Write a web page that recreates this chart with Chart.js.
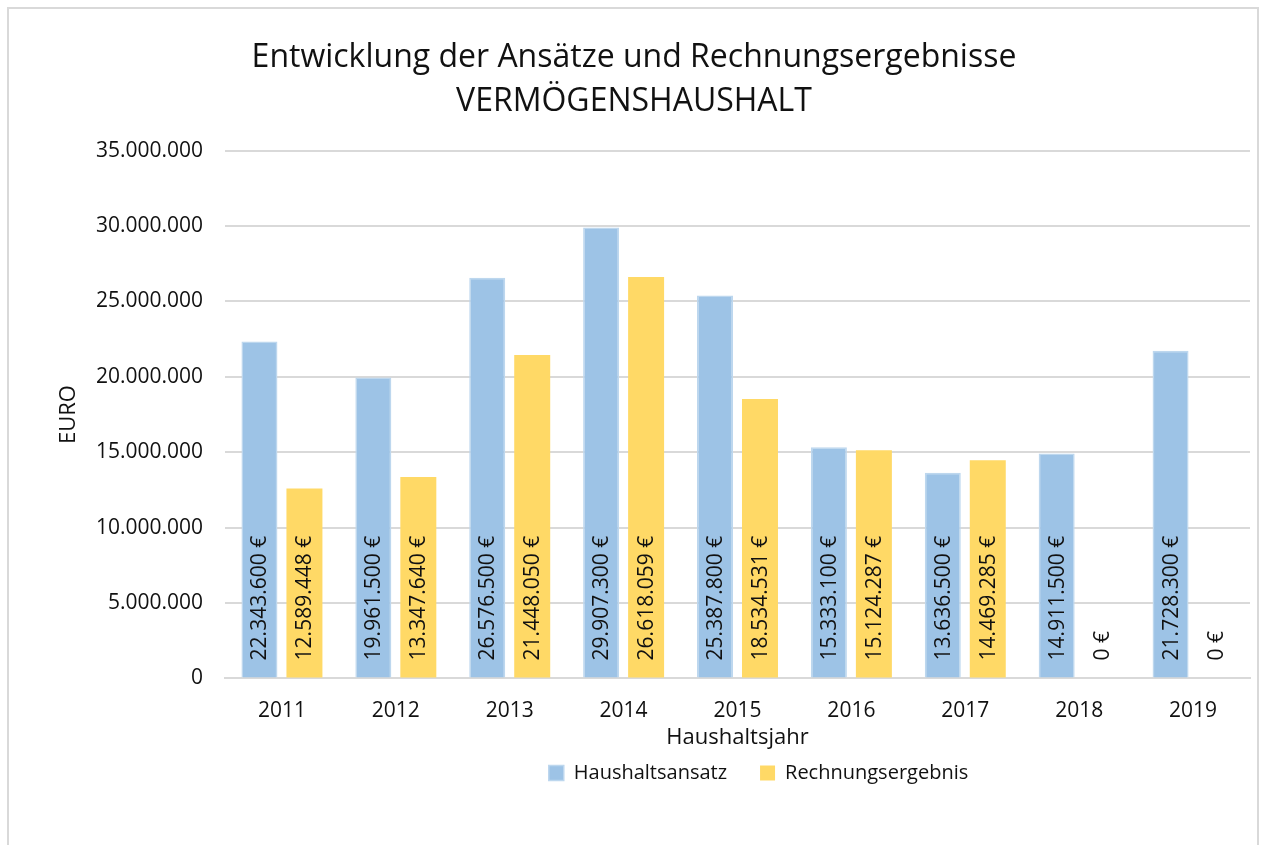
<!DOCTYPE html>
<html lang="de">
<head>
<meta charset="utf-8">
<title>Vermögenshaushalt</title>
<script src="https://cdn.jsdelivr.net/npm/chart.js@4/dist/chart.umd.min.js"></script>
<style>
    html, body { margin: 0; padding: 0; background: #fff; overflow: hidden; }
    #wrap { position: relative; width: 1264px; height: 845px; }
    #frame {
        position: absolute; left: 7px; top: 7px; width: 1252px; height: 900px;
        border: 2px solid #d9d9d9; box-sizing: border-box;
    }
    #chart { position: absolute; left: 0; top: 0; }
</style>
</head>
<body>
<div id="wrap">
    <div id="frame"></div>
    <canvas id="chart" width="1264" height="845"></canvas>
</div>
<script>
'use strict';

const jahre = ['2011', '2012', '2013', '2014', '2015', '2016', '2017', '2018', '2019'];
const haushaltsansatz = [22343600, 19961500, 26576500, 29907300, 25387800, 15333100, 13636500, 14911500, 21728300];
const rechnungsergebnis = [12589448, 13347640, 21448050, 26618059, 18534531, 15124287, 14469285, 0, 0];
const titelZeilen = ['Entwicklung der Ansätze und Rechnungsergebnisse', 'VERMÖGENSHAUSHALT'];

const FONT = '"Open Sans", sans-serif';

// Zahl mit Tausenderpunkten (deutsches Format)
function punkte(n) {
    return String(Math.round(n)).replace(/\B(?=(\d{3})+(?!\d))/g, '.');
}

// Beschriftung der Balken, senkrecht am Fuß des Balkens
const balkenLabels = {
    id: 'balkenLabels',
    afterDatasetsDraw(chart) {
        const ctx = chart.ctx;
        const basis = chart.scales.y.getPixelForValue(0);
        ctx.save();
        ctx.font = '21px ' + FONT;
        ctx.fillStyle = '#111';
        ctx.textAlign = 'left';
        ctx.textBaseline = 'middle';
        chart.data.datasets.forEach((ds, i) => {
            chart.getDatasetMeta(i).data.forEach((bar, j) => {
                ctx.save();
                ctx.translate(bar.x + 1, basis - 18);
                ctx.rotate(-Math.PI / 2);
                ctx.fillText(punkte(ds.data[j]) + ' €', 0, 0);
                ctx.restore();
            });
        });
        ctx.restore();
    }
};

// Legende etwas nach rechts schieben (wie im Original)
const legendeVerschieben = {
    id: 'legendeVerschieben',
    afterLayout(chart) {
        if (chart.legend) {
            chart.legend.left += 21;
            chart.legend.right += 21;
        }
    }
};

const ctx = document.getElementById('chart');

new Chart(ctx, {
    type: 'bar',
    data: {
        labels: jahre,
        datasets: [{
            label: 'Haushaltsansatz',
            data: haushaltsansatz,
            backgroundColor: '#9dc3e6',
            borderColor: '#bdd7ee',
            borderWidth: 1.5
        }, {
            label: 'Rechnungsergebnis',
            data: rechnungsergebnis,
            backgroundColor: '#ffd966',
            borderWidth: 0
        }]
    },
    options: {
        responsive: false,
        animation: false,
        devicePixelRatio: 1,
        categoryPercentage: 0.79,
        barPercentage: 0.8,
        layout: {
            padding: { left: 18, right: 14, top: 35, bottom: 52 }
        },
        plugins: {
            title: {
                display: true,
                text: titelZeilen,
                color: '#111',
                font: { family: FONT, size: 32, weight: 'normal', lineHeight: 1.4 },
                padding: { top: 0, bottom: 26 }
            },
            legend: {
                position: 'bottom',
                fullSize: false,
                labels: {
                    color: '#111',
                    font: { family: FONT, size: 20 },
                    boxWidth: 15,
                    boxHeight: 15,
                    padding: 33
                }
            },
            tooltip: { enabled: false }
        },
        scales: {
            x: {
                grid: { display: false, drawTicks: false },
                border: { color: '#d9d9d9', width: 2 },
                ticks: { color: '#111', font: { family: FONT, size: 21 }, padding: 20 },
                title: {
                    display: true,
                    text: 'Haushaltsjahr',
                    color: '#111',
                    font: { family: FONT, size: 22 },
                    padding: { top: -19, bottom: -21 }
                }
            },
            y: {
                min: 0,
                max: 35000000,
                afterFit(scale) { scale.width = 207; },
                grid: { color: '#d9d9d9', lineWidth: 2, drawTicks: false },
                border: { display: false },
                ticks: {
                    stepSize: 5000000,
                    color: '#111',
                    font: { family: FONT, size: 21 },
                    padding: 22,
                    callback: v => punkte(v)
                },
                title: {
                    display: true,
                    text: 'EURO',
                    color: '#111',
                    font: { family: FONT, size: 22 },
                    padding: { top: 38, bottom: 0 }
                }
            }
        }
    },
    plugins: [balkenLabels, legendeVerschieben]
});
</script>
</body>
</html>
